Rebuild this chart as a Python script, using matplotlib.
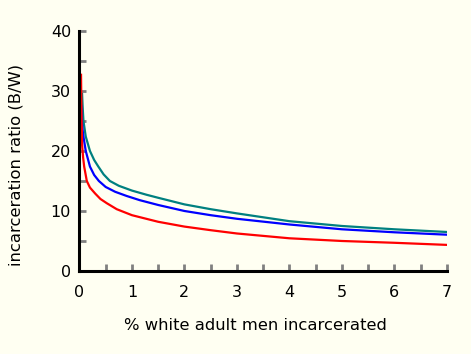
import matplotlib
matplotlib.use("Agg")
import matplotlib.pyplot as plt
from matplotlib.ticker import MultipleLocator

# values
red_x = [0.03, 0.035, 0.04, 0.05, 0.07, 0.09, 0.14, 0.20, 0.30, 0.40, 0.52, 0.71, 1.0, 1.5, 2.0, 2.5, 3.0, 4.0, 5.0, 6.0, 7.0]
red_y = [32.7, 29.0, 25.5, 21.0, 18.9, 17.4, 15.0, 13.9, 12.9, 12.0, 11.3, 10.3, 9.3, 8.2, 7.4, 6.8, 6.25, 5.45, 5.0, 4.7, 4.35]

blue_x = [0.035, 0.045, 0.06, 0.076, 0.12, 0.20, 0.28, 0.37, 0.50, 0.68, 0.90, 1.15, 1.5, 2.0, 2.5, 3.0, 4.0, 5.0, 6.0, 7.0]
blue_y = [27.5, 25.0, 23.5, 22.4, 20.0, 17.4, 16.0, 15.0, 14.0, 13.2, 12.5, 11.8, 11.0, 10.0, 9.3, 8.7, 7.75, 6.95, 6.45, 6.05]

teal_x = [0.05, 0.06, 0.076, 0.12, 0.20, 0.28, 0.36, 0.46, 0.58, 0.75, 1.0, 1.28, 1.5, 2.0, 2.5, 3.0, 4.0, 5.0, 6.0, 7.0]
teal_y = [29.5, 27.5, 25.0, 22.4, 20.0, 18.5, 17.4, 16.1, 15.0, 14.2, 13.4, 12.7, 12.2, 11.1, 10.3, 9.6, 8.3, 7.5, 6.95, 6.5]

bg = "#fffff2"

fig = plt.figure(figsize=(4.71, 3.54), dpi=100, facecolor=bg)
ax = fig.add_axes([0.1687, 0.2345, 0.780, 0.678], facecolor=bg)

ax.plot(teal_x, teal_y, color="#008080", lw=1.6)
ax.plot(blue_x, blue_y, color="#0000ff", lw=1.6)
ax.plot(red_x, red_y, color="#ff0000", lw=1.6)

ax.set_xlim(0, 7)
ax.set_ylim(0, 40)

for s in ["top", "right"]:
    ax.spines[s].set_visible(False)
for s in ["left", "bottom"]:
    ax.spines[s].set_linewidth(2.2)
    ax.spines[s].set_color("black")

ax.xaxis.set_major_locator(MultipleLocator(1))
ax.xaxis.set_minor_locator(MultipleLocator(0.5))
ax.yaxis.set_major_locator(MultipleLocator(10))
ax.yaxis.set_minor_locator(MultipleLocator(5))
ax.tick_params(which="both", direction="in", color="#808080", width=2, length=5,
               labelsize=11.5, labelcolor="black")
ax.tick_params(axis="x", which="major", pad=10)
ax.tick_params(axis="y", which="major", pad=6)

ax.set_xlabel("% white adult men incarcerated", fontsize=11.75)
ax.set_ylabel("incarceration ratio (B/W)", fontsize=11.75)
ax.xaxis.set_label_coords(0.48, -0.195)
ax.yaxis.set_label_coords(-0.152, 0.44)

fig.savefig("out.png", dpi=100, facecolor=bg)
